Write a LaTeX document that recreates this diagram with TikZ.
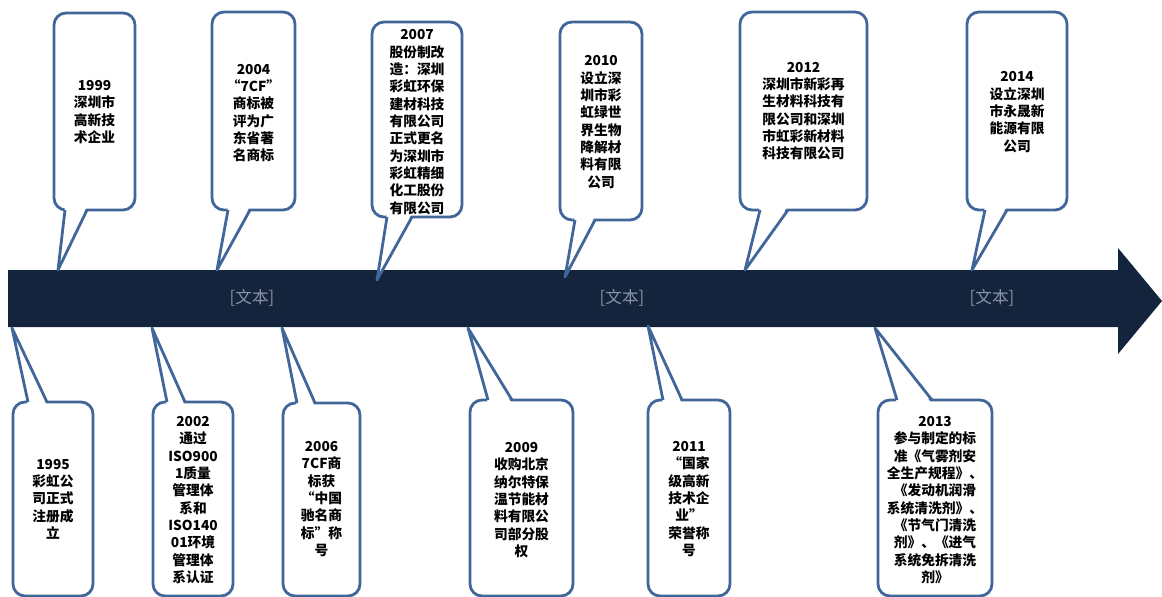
\documentclass[tikz,border=0pt]{standalone}
\usepackage{fontspec}
\newfontfamily\cjk{Noto Sans CJK SC}
\usepackage{xcolor}
\usepackage{tikz}
\usetikzlibrary{positioning}

\definecolor{barnavy}{HTML}{14243D}
\definecolor{calloutblue}{HTML}{41669A}
\definecolor{labelgray}{HTML}{8A94A3}

\begin{document}
\begin{tikzpicture}[x=0.75pt,y=-0.75pt,
    callout/.style={draw=calloutblue,fill=white,line width=2.1pt,rounded corners=9},
    tailfill/.style={fill=white},
    tailline/.style={draw=calloutblue,line width=2.1pt,line join=round},
    note/.style={align=center,inner sep=0pt,font=\cjk\bfseries\fontsize{10.3}{13}\selectfont},
    bartext/.style={labelgray,font=\cjk\fontsize{12.5}{14}\selectfont}]
  \useasboundingbox (0,0) rectangle (1162,596);
  \clip (0,0) rectangle (1162,596);

  % the time bar
  \fill[barnavy] (8,270) -- (1118,270) -- (1118,248) -- (1162,301) -- (1118,354)
                 -- (1118,327) -- (8,327) -- cycle;
  \node[bartext] (lab1) at (252,298) {[文本]};
  \node[bartext] (lab2) at (622,298) {[文本]};
  \node[bartext] (lab3) at (992,298) {[文本]};

  % tail tips on the bar
  \coordinate (t1999) at (58,270);
  \coordinate (t2004) at (217,270);
  \coordinate (t2007) at (377,280);
  \coordinate (t2010) at (565,277);
  \coordinate (t2012) at (745,270);
  \coordinate (t2014) at (972,270);
  \coordinate (t1995) at (12,328);
  \coordinate (t2002) at (152,328);
  \coordinate (t2006) at (282,328);
  \coordinate (t2009) at (468,328);
  \coordinate (t2011) at (648,326);
  \coordinate (t2013) at (875,328);

  % callouts above the bar
  \draw[callout] (54,13) rectangle (135,210);
  \fill[tailfill] (65,206) -- (t1999) -- (87,206) -- cycle;
  \draw[tailline] (65,210) -- (t1999) -- (87,210);
  \draw[callout] (212,12) rectangle (295,210);
  \fill[tailfill] (228,206) -- (t2004) -- (250,206) -- cycle;
  \draw[tailline] (228,210) -- (t2004) -- (250,210);
  \draw[callout] (372,22) rectangle (462,217);
  \fill[tailfill] (387,213) -- (t2007) -- (412,213) -- cycle;
  \draw[tailline] (387,217) -- (t2007) -- (412,217);
  \draw[callout] (560,22) rectangle (642,220);
  \fill[tailfill] (575,216) -- (t2010) -- (595,216) -- cycle;
  \draw[tailline] (575,220) -- (t2010) -- (595,220);
  \draw[callout] (740,12) rectangle (867,210);
  \fill[tailfill] (760,206) -- (t2012) -- (788,206) -- cycle;
  \draw[tailline] (760,210) -- (t2012) -- (788,210);
  \draw[callout] (967,12) rectangle (1067,210);
  \fill[tailfill] (985,206) -- (t2014) -- (1007,206) -- cycle;
  \draw[tailline] (985,210) -- (t2014) -- (1007,210);

  % callouts below the bar
  \draw[callout] (13,402) rectangle (93,596);
  \fill[tailfill] (28,406) -- (t1995) -- (47,406) -- cycle;
  \draw[tailline] (28,402) -- (t1995) -- (47,402);
  \draw[callout] (153,402) rectangle (233,596);
  \fill[tailfill] (167,406) -- (t2002) -- (185,406) -- cycle;
  \draw[tailline] (167,402) -- (t2002) -- (185,402);
  \draw[callout] (283,403) rectangle (360,596);
  \fill[tailfill] (297,407) -- (t2006) -- (315,407) -- cycle;
  \draw[tailline] (297,403) -- (t2006) -- (315,403);
  \draw[callout] (470,400) rectangle (573,596);
  \fill[tailfill] (488,404) -- (t2009) -- (512,404) -- cycle;
  \draw[tailline] (488,400) -- (t2009) -- (512,400);
  \draw[callout] (648,400) rectangle (730,596);
  \fill[tailfill] (663,404) -- (t2011) -- (682,404) -- cycle;
  \draw[tailline] (663,400) -- (t2011) -- (682,400);
  \draw[callout] (878,400) rectangle (992,596);
  \fill[tailfill] (897,404) -- (t2013) -- (932,404) -- cycle;
  \draw[tailline] (897,400) -- (t2013) -- (932,400);

  % texts
  \node[note] (n1999) at (94.5,112) {1999\\深圳市\\高新技\\术企业};
  \node[note] (n2004) at (253.5,113) {2004\\“7CF”\\商标被\\评为广\\东省著\\名商标};
  \node[note] (n2007) at (417,122) {2007\\股份制改\\造：深圳\\彩虹环保\\建材科技\\有限公司\\正式更名\\为深圳市\\彩虹精细\\化工股份\\有限公司};
  \node[note] (n2010) at (601,122) {2010\\设立深\\圳市彩\\虹绿世\\界生物\\降解材\\料有限\\公司};
  \node[note] (n2012) at (803.5,111) {2012\\深圳市新彩再\\生材料科技有\\限公司和深圳\\市虹彩新材料\\科技有限公司};
  \node[note] (n2014) at (1017,112) {2014\\设立深圳\\市永晟新\\能源有限\\公司};

  \node[note] (n1995) at (53,499) {1995\\彩虹公\\司正式\\注册成\\立};
  \node[note] (n2002) at (193,500) {2002\\通过\\ISO900\\1质量\\管理体\\系和\\ISO140\\01环境\\管理体\\系认证};
  \node[note] (n2006) at (321.5,499) {2006\\7CF商\\标获\\“中国\\驰名商\\标”称\\号};
  \node[note] (n2009) at (521.5,500) {2009\\收购北京\\纳尔特保\\温节能材\\料有限公\\司部分股\\权};
  \node[note] (n2011) at (689,499) {2011\\“国家\\级高新\\技术企\\业”\\荣誉称\\号};
  \node[note] (n2013) at (935,500) {2013\\参与制定的标\\准《气雾剂安\\全生产规程》、\\《发动机润滑\\系统清洗剂》、\\《节气门清洗\\剂》、《进气\\系统免拆清洗\\剂》};
\end{tikzpicture}
\end{document}
